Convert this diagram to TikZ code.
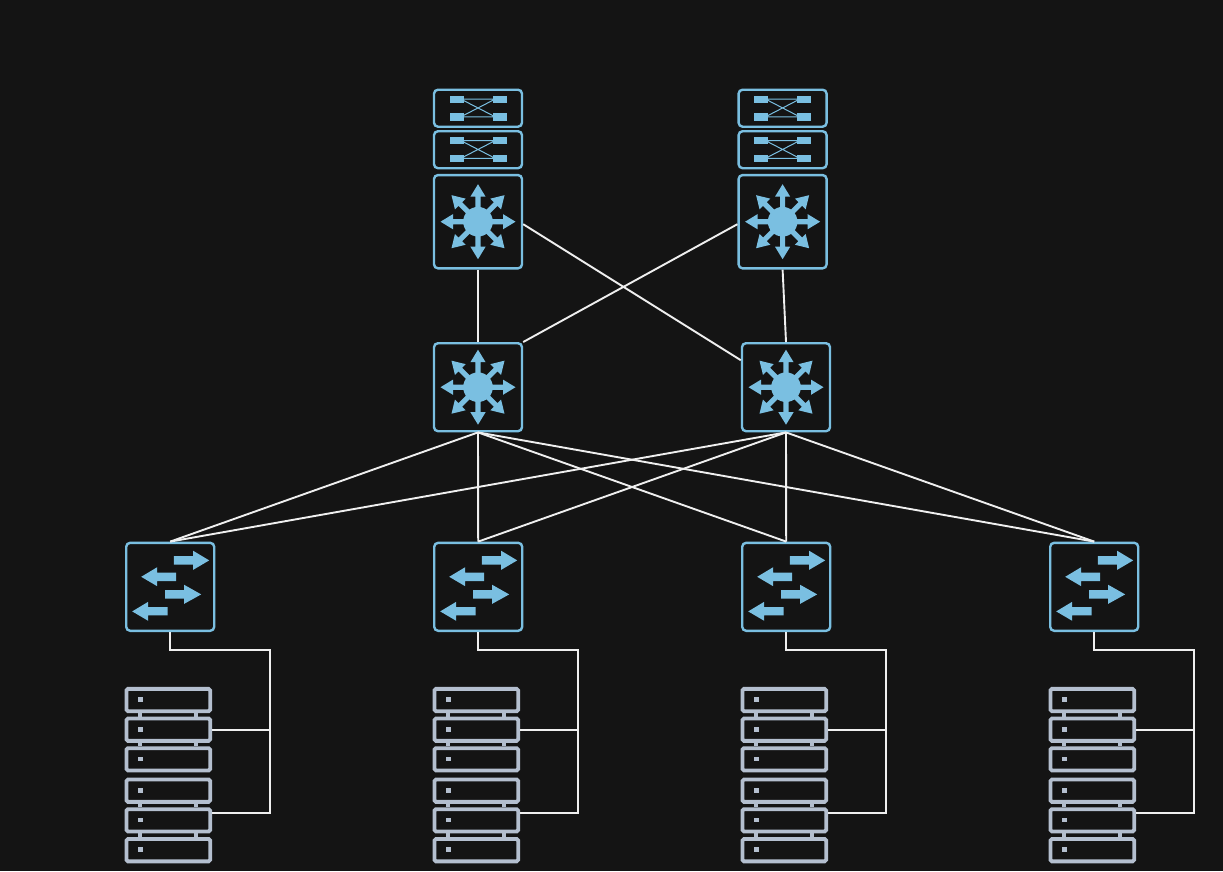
\documentclass[tikz,border=0pt]{standalone}
\definecolor{bgc}{HTML}{141414}
\definecolor{ico}{HTML}{7ABFE1}
\definecolor{srv}{HTML}{B4BFCF}
\definecolor{wire}{HTML}{EFEFEF}
\tikzset{
  x=1pt,y=-1pt,
  devbox/.style={draw=ico,line width=2.4pt,rounded corners=4pt,inner sep=0pt,minimum width=88pt},
  bigbox/.style={devbox,minimum height=88pt},
  corebox/.style={devbox,minimum height=93.3pt},
  flatbox/.style={devbox,minimum height=37pt},
  srvbox/.style={draw=srv,line width=3.8pt,rounded corners=1.5pt,inner sep=0pt,minimum width=83.7pt,minimum height=22.3pt},
  link/.style={draw=wire,line width=1.9pt},
  pics/routericon/.style={code={
    \fill[ico] (0,0) circle (14.8);
    \foreach \a in {0,45,...,315}
      \fill[ico,rotate=\a] (0,-2.6) -- (25,-2.6) -- (25,-7.6) -- (37.5,0) -- (25,7.6) -- (25,2.6) -- (0,2.6) -- cycle;
  }},
  pics/accessicon/.style={code={
    \fill[ico] (3.7,-30.6) -- (23,-30.6) -- (23,-36) -- (39,-26.4) -- (23,-17) -- (23,-22.2) -- (3.7,-22.2) -- cycle;
    \fill[ico] (6,-14.2) -- (-13,-14.2) -- (-13,-19.6) -- (-29,-10) -- (-13,-0.6) -- (-13,-5.8) -- (6,-5.8) -- cycle;
    \fill[ico] (-5,3.4) -- (14,3.4) -- (14,-2) -- (31,7.6) -- (14,17) -- (14,11.8) -- (-5,11.8) -- cycle;
    \fill[ico] (-2.7,20.2) -- (-22,20.2) -- (-22,15) -- (-38,24.6) -- (-22,34) -- (-22,28.6) -- (-2.7,28.6) -- cycle;
  }},
  pics/flaticon/.style={code={
    \fill[ico] (-28.2,-12.7) rectangle (-14.5,-5.3);
    \fill[ico] (14.8,-12.7) rectangle (28.5,-5.3);
    \fill[ico] (-28.2,5) rectangle (-14.5,12.4);
    \fill[ico] (14.8,5) rectangle (28.5,12.4);
    \draw[ico,line width=1pt] (-15,-9) -- (15,-9) (-15,8.7) -- (15,8.7)
      (-15,-8) -- (15,7.5) (-15,7.5) -- (15,-8);
  }},
}
\newcommand{\srvdetail}[1]{%
  \fill[srv] ([xshift=-28pt,yshift=.4pt]#1.center) ++(-2.4,-2.4) rectangle ++(4.8,4.8);
}
\newcommand{\srvjoin}[2]{%
  \draw[srv,line width=3.8pt] ([xshift=-28pt]#1.south) -- ([xshift=-28pt]#2.north)
     ([xshift=27.7pt]#1.south) -- ([xshift=27.7pt]#2.north);
}
\begin{document}
\begin{tikzpicture}
\fill[bgc] (0,0) rectangle (1223,871);
\useasboundingbox (0,0) rectangle (1223,871);

% core stacks
\node[flatbox] (fa1) at (478,108.2) {};
\node[flatbox] (fa2) at (478,149.7) {};
\node[corebox] (coreA) at (478,221.7) {};
\node[flatbox] (fb1) at (782.6,108.2) {};
\node[flatbox] (fb2) at (782.6,149.7) {};
\node[corebox] (coreB) at (782.6,221.7) {};
\foreach \n in {fa1,fa2,fb1,fb2} \pic at (\n.center) {flaticon};
\foreach \n in {coreA,coreB} \pic at (\n.center) {routericon};

% aggregation
\node[bigbox] (aggA) at (478,387.2) {};
\node[bigbox] (aggB) at (786,387.2) {};
\foreach \n in {aggA,aggB} \pic at (\n.center) {routericon};

% access + racks
\foreach \i/\x in {1/170.2,2/478.2,3/786.2,4/1094.2}{
  \node[bigbox] (acc\i) at (\x,586.8) {};
  \pic at (acc\i.center) {accessicon};
  \foreach \j/\y in {1/700,2/729.7,3/759.3,4/790.7,5/820.3,6/850.2}{
    \node[srvbox] (s\i\j) at (\x-1.9,\y) {};
    \srvdetail{s\i\j}
  }
  \srvjoin{s\i1}{s\i2}
  \srvjoin{s\i2}{s\i3}
  \srvjoin{s\i4}{s\i5}
  \srvjoin{s\i5}{s\i6}
  \coordinate (bus\i) at (\x+100,650);
  \coordinate (lo\i) at ([yshift=7.3pt]s\i5.east);
  \draw[link] (acc\i.south) |- (bus\i) |- (s\i2.east);
  \draw[link] (bus\i) |- (lo\i);
}

% core to aggregation
\coordinate (ca) at ([yshift=-2.5pt]coreA.east);
\coordinate (cb) at ([yshift=-2.5pt]coreB.west);
\coordinate (ab) at ([yshift=27pt]aggB.west);
\draw[link] (coreA.south) -- (aggA.north);
\draw[link] (coreB.south) -- (aggB.north);
\draw[link] (ca) -- (ab);
\draw[link] (cb) -- (aggA.north east);

% aggregation to access
\foreach \a in {aggA,aggB}
  \foreach \i in {1,2,3,4}
    \draw[link] (\a.south) -- (acc\i.north);
\end{tikzpicture}
\end{document}
